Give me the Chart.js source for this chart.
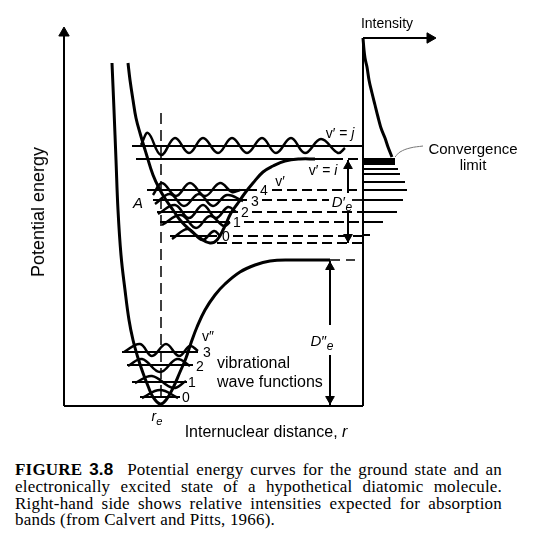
<!DOCTYPE html>
<html>
<head>
<meta charset="utf-8">
<script src="https://cdn.jsdelivr.net/npm/chart.js@4.4.1/dist/chart.umd.min.js"></script>
<style>
  body { margin: 0; background: #fff; }
  #wrap { position: relative; width: 546px; height: 559px; color: #000;
          font-family: "Liberation Sans", Arial, sans-serif; }
  #plot { position: absolute; left: 0; top: 0; width: 546px; height: 440px; }
  .lbl { position: absolute; white-space: nowrap; line-height: 1; transform: translate(-50%, -50%); }
  .left { transform: translate(0, -50%); }
  .rot { transform: translate(-50%, -50%) rotate(-90deg); }
  sub { font-size: 0.8em; vertical-align: -0.35em; line-height: 0; }
  #caption { position: absolute; left: 15px; top: 462px; width: 487px;
             font-family: "Liberation Serif", "Times New Roman", serif; font-size: 17px; line-height: 16.8px;
             letter-spacing: 0.2px; }
  #caption div { text-align: justify; text-align-last: justify; white-space: nowrap; }
  #caption div.last { text-align-last: left; }
</style>
</head>
<body>
<div id="wrap">
  <div id="plot"><canvas id="diagram"></canvas></div>
  <div id="caption">
    <div><b>FIGURE <span style="font-family:'Liberation Sans',Arial,sans-serif;">3.8</span></b>&nbsp; Potential energy curves for the ground state and an</div>
    <div>electronically excited state of a hypothetical diatomic molecule.</div>
    <div>Right-hand side shows relative intensities expected for absorption</div>
    <div class="last">bands (from Calvert and Pitts, 1966).</div>
  </div>
</div>
<script>
// coordinates: r = internuclear distance, E = potential energy (arbitrary units, ground minimum = 0)
const groundCurve = [[48,343],[50,296],[52,246],[54,196],[57,151],[61,116],[65,86],[69,66],[74,48],[79,33],
  [84,20],[89,9],[96,2],[102,6],[109,18],[116,34],[122,48],[127,63],[133,79],[141,96],[151,111],
  [161,122],[176,134],[191,141],[206,145],[226,146],[266,146]];
const excitedCurve = [[64,343],[66,326],[69,306],[72,288],[76,273],[82,253],[89,231],[96,216],[102,206],
  [109,196],[116,186],[126,176],[136,168],[146,163],[153,166],[160,178],[167,193],[174,203],[181,213],
  [189,223],[199,234],[209,240],[221,245],[236,247],[251,247]];

// vibrational levels v'' = 0..3 and v' = 0..4
const groundLevels = [9, 24, 41, 54];
const groundLevelSpan = [[76,116],[68,123],[63,129],[58,134]];
const excitedLevels = [170, 184, 194, 206, 216];
const excitedLevelSpan = [[106,153],[96,166],[93,174],[89,183],[83,193]];
const excitedDashStart = [169, 180, 188, 198, 208];

const E_MIN_EXC = 163;     // bottom of excited well
const E_DISS_EXC = 247;    // v' = i (convergence limit)
const E_J = 260;           // v' = j (continuum)
const E_DISS_GND = 146;    // ground-state dissociation

// vibrational wave functions
const groundWaves = [
  [[78,8],[96,16],[114,8]],
  [[71,23],[88,30],[109,18],[122,25]],
  [[64,40],[78,47],[96,34],[113,47],[126,40]],
  [[60,54],[76,62],[88,50],[102,62],[115,50],[126,60],[134,55]]
];
const excitedWaves = [
  [[108,167],[124,177],[138,166],[150,175],[156,170]],
  [[98,181],[117,191],[132,178],[146,190],[160,180],[166,184]],
  [[94,192],[111,201],[125,188],[139,201],[152,188],[164,199],[172,194]],
  [[91,202],[106,212],[120,200],[135,212],[149,200],[163,211],[179,205]],
  [[89,211],[98,223],[112,210],[126,223],[141,210],[156,223],[168,214],[176,216]]
];
const continuumWave = [[77,261],[84,273],[97,251],[111,268],[125,253],[139,268],[154,253],[168,268],
  [183,253],[198,268],[212,253],[227,268],[241,253],[257,267],[274,253],[281,258]];

// absorption spectrum (intensity measured from the intensity axis)
const INT_AXIS = 299;
const intensityCurve = [[0,368],[1,356],[2,348],[4,339],[6,326],[9,313],[12,301],[15,289],[18,278],[22,268],[25,259],[29,249]];
const bandEnergies = [237, 232, 224, 216, 206, 194, 184, 171];
const bandIntensities = [35, 37, 42, 44, 40, 34, 20, 7];
const convergenceBlock = [244.5, 32];

const labels = [
  { t: "v′ = <i>j</i>", r: 276, e: 273, s: 14 },
  { t: "v′ = <i>i</i>", r: 259, e: 236, s: 14 },
  { t: "v′", r: 216, e: 225, s: 14 },
  { t: "<i>A</i>", r: 74, e: 204, s: 15 },
  { t: "4", r: 200, e: 216, s: 14 }, { t: "3", r: 191, e: 205, s: 14 },
  { t: "2", r: 181, e: 194, s: 14 }, { t: "1", r: 173, e: 184, s: 14 },
  { t: "0", r: 162, e: 170, s: 14 },
  { t: "<i>D</i>′<sub><i>e</i></sub>", r: 278, e: 205, s: 15 },
  { t: "<i>D</i>″<sub><i>e</i></sub>", r: 258, e: 66, s: 15 },
  { t: "v″", r: 144, e: 70, s: 14 },
  { t: "3", r: 143, e: 54, s: 14 }, { t: "2", r: 136, e: 40, s: 14 },
  { t: "1", r: 128, e: 24, s: 14 }, { t: "0", r: 122, e: 9, s: 14 },
  { t: "vibrational", r: 153, e: 43, s: 16, cls: "left" },
  { t: "wave functions", r: 153, e: 24, s: 16, cls: "left" },
  { t: "<i>r</i><sub><i>e</i></sub>", r: 93, e: -10, s: 14 },
  { t: "Intensity", r: 323, e: 383, s: 14 },
  { t: "Convergence", r: 409, e: 258, s: 15 },
  { t: "limit", r: 409, e: 242, s: 15 },
  { t: "Potential energy", r: -26, e: 194, s: 18, cls: "rot" },
  { t: "Internuclear distance, <i>r</i>", r: 202, e: -26, s: 16 }
];

const wrap = document.getElementById("wrap");
labels.forEach(function (l, i) {
  const el = document.createElement("div");
  el.className = "lbl" + (l.cls ? " " + l.cls : "");
  el.id = "lbl" + i;
  el.style.fontSize = l.s + "px";
  el.innerHTML = l.t;
  wrap.appendChild(el);
});

const pts = (arr) => arr.map((p) => ({ x: p[0], y: p[1] }));
const hseg = (r0, r1, e) => [{ x: r0, y: e }, { x: r1, y: e }];
const vseg = (r, e0, e1) => [{ x: r, y: e0 }, { x: r, y: e1 }];

const datasets = [];
function addLine(data, width, dash, tension) {
  datasets.push({
    data: data,
    showLine: true,
    borderColor: "#000",
    borderWidth: width,
    borderDash: dash || [],
    tension: tension || 0,
    pointRadius: 0,
    pointHoverRadius: 0,
    fill: false,
  });
}
function addArrow(r, e, rot, size) {
  datasets.push({
    data: [{ x: r, y: e }],
    showLine: false,
    pointStyle: "triangle",
    pointRotation: rot,
    pointRadius: size,
    pointHoverRadius: size,
    pointBackgroundColor: "#000",
    pointBorderColor: "#000",
    pointBorderWidth: 1,
  });
}

// axes
addLine(vseg(0, 0, 374), 2);
addArrow(0, 373, 0, 6);
addLine(hseg(0, INT_AXIS, 0), 2);
addLine(vseg(INT_AXIS, 0, 368), 2);
addLine(hseg(INT_AXIS, 366, 368), 2);
addArrow(366, 368, 90, 6);

// potential curves
addLine(pts(groundCurve), 3, [], 0.4);
addLine(pts(excitedCurve), 3, [], 0.4);
addLine(hseg(266, 291, E_DISS_GND), 1.5, [10, 6]);

// vertical transition line through r_e
addLine(vseg(97, 293, 8), 1.5, [11, 6]);

// ground-state levels and wave functions
groundLevels.forEach(function (e, i) {
  addLine(hseg(groundLevelSpan[i][0], groundLevelSpan[i][1], e), 1.8);
  addLine(pts(groundWaves[i]), 2.5, [], 0.4);
});

// excited-state levels and wave functions
excitedLevels.forEach(function (e, i) {
  addLine(hseg(excitedLevelSpan[i][0], excitedLevelSpan[i][1], e), 1.8);
  const end = i === 3 ? 265 : INT_AXIS;
  addLine(hseg(excitedDashStart[i], end, e), 1.8, [10, 5]);
  addLine(pts(excitedWaves[i]), 2.5, [], 0.4);
});
addLine(hseg(288, INT_AXIS, excitedLevels[3]), 1.8);
addLine(hseg(153, INT_AXIS, E_MIN_EXC), 1.8, [10, 5]);

// continuum and convergence limit
addLine(hseg(68, INT_AXIS, E_J), 1.8);
addLine(pts(continuumWave), 2.5, [], 0.4);
addLine(hseg(72, 269, E_DISS_EXC), 1.8);
addLine(hseg(269, INT_AXIS, E_DISS_EXC), 1.8, [10, 5]);

// dissociation energy arrows
addLine(vseg(284, 246, 213), 2);
addLine(vseg(284, 194, 163), 2);
addArrow(284, 240, 0, 5);
addArrow(284, 169, 180, 5);
addLine(vseg(266, 145, 81), 2);
addLine(vseg(266, 51, 1), 2);
addArrow(266, 139, 0, 5);
addArrow(266, 7, 180, 5);

// absorption spectrum
datasets.push({
  data: intensityCurve.map((p) => ({ x: INT_AXIS + p[0], y: p[1] })),
  showLine: true, borderColor: "#000", borderWidth: 3, cubicInterpolationMode: "monotone",
  pointRadius: 0, pointHoverRadius: 0,
});
addLine(hseg(INT_AXIS, INT_AXIS + convergenceBlock[1], convergenceBlock[0]), 7);
bandEnergies.forEach(function (e, i) {
  addLine(hseg(INT_AXIS, INT_AXIS + bandIntensities[i], e), 2);
});
datasets.push({
  data: pts([[331, 249], [336, 254], [346, 258], [359, 260]]),
  showLine: true, borderColor: "#777", borderWidth: 1, tension: 0.4, pointRadius: 0, pointHoverRadius: 0,
});

const placeLabels = {
  id: "placeLabels",
  afterDraw(chart) {
    const xs = chart.scales.x;
    const ys = chart.scales.y;
    labels.forEach(function (l, i) {
      const el = document.getElementById("lbl" + i);
      el.style.left = xs.getPixelForValue(l.r) + "px";
      el.style.top = ys.getPixelForValue(l.e) + "px";
    });
  },
};

new Chart(document.getElementById("diagram"), {
  type: "scatter",
  data: { datasets: datasets },
  options: {
    responsive: true,
    maintainAspectRatio: false,
    animation: false,
    events: [],
    layout: { padding: 0, autoPadding: false },
    plugins: { legend: { display: false }, tooltip: { enabled: false } },
    scales: {
      x: { type: "linear", min: -64, max: 482, display: false },
      y: { type: "linear", min: -34, max: 406, display: false },
    },
  },
  plugins: [placeLabels],
});
</script>
</body>
</html>
